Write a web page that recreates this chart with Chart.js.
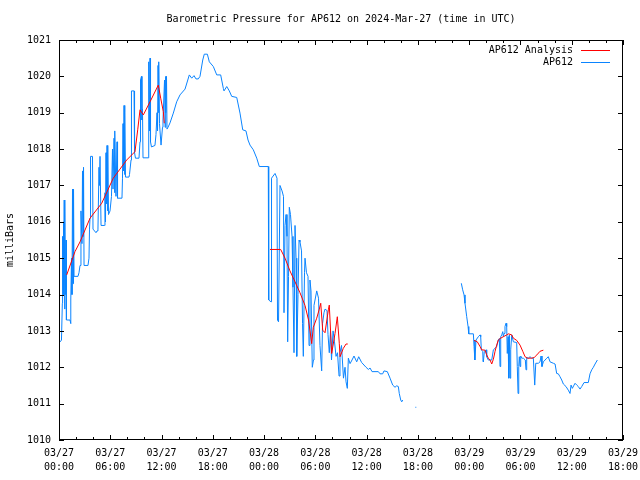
<!DOCTYPE html>
<html>
<head>
<meta charset="utf-8">
<title>AP612 barometric pressure</title>
<script src="https://cdn.jsdelivr.net/npm/chart.js@4.4.1/dist/chart.umd.min.js"></script>
<style>
  html, body { margin: 0; padding: 0; background: #fff; }
  #wrap { width: 640px; height: 480px; }
</style>
</head>
<body>
<div id="wrap"><canvas id="baro"></canvas></div>
<script>
// hours since 2024-03-27 00:00 UTC, null = no data
const apHours = [
  0.15,0.29,0.39,0.42,0.47,0.51,0.56,0.61,0.66,0.70,0.75,0.82,0.87,1.29,1.36,1.40,1.46,1.52,1.58,1.64,1.70,1.76,
  2.22,2.34,2.46,2.57,2.69,2.75,2.81,2.87,2.93,3.39,3.51,3.57,3.63,3.69,3.92,3.98,4.33,4.45,4.56,4.68,4.74,4.80,4.92,
  5.32,5.38,5.44,5.50,5.56,5.62,5.68,5.73,5.79,5.97,6.14,6.26,6.32,6.44,6.50,6.55,6.67,6.79,6.85,7.37,7.43,7.49,7.55,
  7.61,7.67,7.72,7.78,8.19,8.25,8.43,8.48,8.78,8.84,8.95,9.36,9.48,9.54,9.65,9.71,9.77,9.83,10.42,10.47,10.53,10.59,
  10.65,10.71,10.82,11.23,11.35,11.47,11.53,11.59,11.64,11.70,11.76,11.94,12.11,12.17,12.35,12.41,12.46,12.52,12.58,
  12.64,12.76,12.99,13.38,13.77,14.16,14.75,15.25,15.53,15.80,16.03,16.30,16.50,16.82,17.00,17.36,17.59,18.06,18.46,
  18.92,19.23,19.31,19.63,19.93,20.21,20.80,21.18,21.50,21.88,22.12,22.35,22.74,23.14,23.44,24.49,24.54,24.81,24.87,
  25.28,25.51,25.57,25.69,25.86,26.10,26.27,26.33,26.45,26.57,26.68,26.76,26.86,26.95,27.09,27.27,27.38,27.50,27.62,
  27.74,27.82,27.97,28.09,28.20,28.38,28.50,28.59,28.73,28.79,28.96,29.14,29.26,29.37,29.49,29.64,29.78,29.84,30.16,
  30.37,30.54,30.74,30.84,31.01,31.13,31.36,31.48,31.63,31.77,31.89,32.07,32.24,32.42,32.59,32.77,32.88,33.06,33.29,
  33.47,33.59,33.74,33.86,34.06,34.29,34.52,34.84,35.07,35.42,35.93,36.20,36.40,36.63,37.37,37.57,37.88,38.03,38.42,
  38.74,39.05,39.32,39.52,39.71,39.82,39.99,40.11,40.22,40.6,
  41.70,41.81,42.2,
  47.08,47.24,47.40,47.51,47.71,47.87,47.95,48.49,48.57,48.65,48.68,48.80,49.07,49.27,49.35,49.42,49.59,49.62,49.66,
  49.77,49.97,50.05,50.24,50.64,50.83,51.03,51.22,51.41,51.53,51.61,51.69,51.81,51.93,52.00,52.08,52.19,52.31,52.39,
  52.46,52.55,52.63,52.70,52.78,52.86,52.98,53.17,53.56,53.63,53.72,53.80,53.87,53.95,54.03,54.15,54.34,54.57,54.65,
  54.73,54.92,55.12,55.32,55.51,55.67,55.79,56.09,56.29,56.41,56.52,56.68,56.88,57.08,57.26,57.46,57.85,58.05,58.24,
  58.43,58.63,58.83,59.02,59.33,59.60,59.80,59.92,60.07,60.27,60.39,60.59,60.77,60.97,61.17,61.44,61.94,62.14,62.34,
  62.53,62.73,63.00
];
const apMb = [
  1012.70,1012.75,1013.76,1015.60,1014.10,1016.00,1014.00,1016.60,1013.60,1016.60,1014.00,1015.50,1013.30,1013.30,
  1013.20,1013.85,1015.00,1014.00,1016.90,1014.30,1016.90,1014.50,
  1014.50,1014.60,1014.80,1016.30,1015.40,1017.40,1015.60,1017.50,1014.80,1014.80,1015.00,1015.80,1016.10,1017.80,
  1017.80,1015.80,1015.70,1015.75,1015.80,1017.50,1017.00,1017.80,1015.90,
  1015.90,1016.80,1016.00,1017.90,1016.50,1018.10,1016.30,1018.10,1016.20,1016.30,1016.70,1018.00,1016.90,1018.30,
  1016.80,1018.50,1016.70,1018.20,1016.65,1016.65,1017.20,1018.70,1017.40,
  1019.20,1017.30,1019.00,1017.23,1017.23,1017.30,1017.70,1019.60,1019.60,1017.90,1017.75,1017.75,1018.20,1019.90,
  1020.00,1018.80,1019.10,1017.76,1017.76,1018.10,1020.40,1018.50,
  1020.50,1018.20,1018.06,1018.10,1018.40,1019.00,1018.50,1020.30,1019.00,1020.40,1018.70,1018.11,1018.60,1018.80,
  1019.90,1018.60,1020.00,1019.00,1020.00,
  1018.55,1018.60,1018.72,1018.99,1019.30,1019.49,1019.65,1020.04,1019.95,1020.02,1019.93,1019.93,1020.00,1020.45,
  1020.61,1020.61,1020.40,1020.27,1020.04,
  1020.04,1019.67,1019.60,1019.72,1019.60,1019.45,1019.42,1018.99,1018.53,1018.50,1018.25,1018.11,1017.98,1017.75,
  1017.52,1017.52,1013.85,1013.80,1017.20,
  1017.33,1017.20,1013.30,1013.25,1017.00,1016.85,1016.70,1013.50,1015.90,1016.20,1015.60,1012.70,1014.50,1016.40,
  1016.20,1015.60,1014.20,1012.40,1015.90,
  1015.00,1012.30,1014.00,1015.50,1015.45,1015.20,1013.20,1012.30,1014.60,1015.00,1014.60,1014.50,1012.60,1014.40,
  1014.10,1012.00,1012.20,1013.70,1014.10,
  1013.90,1012.60,1011.90,1013.20,1013.50,1013.60,1013.56,1012.90,1012.40,1013.00,1012.20,1013.00,1012.70,1012.30,
  1012.40,1011.76,1012.40,1012.60,1011.70,
  1012.00,1011.60,1011.42,1012.25,1012.10,1012.20,1012.31,1012.15,1012.29,1012.13,1012.00,1011.94,1011.98,1011.88,
  1011.88,1011.82,1011.82,1011.90,1011.88,
  1011.70,1011.51,1011.45,1011.49,1011.47,1011.28,1011.10,1011.05,1011.10,null,
  1010.90,1010.90,null,
  1014.31,1014.13,1013.99,1013.76,1013.39,1013.12,1012.92,1012.92,1012.57,1012.75,1012.20,1012.75,1012.84,1012.89,
  1012.84,1012.48,1012.43,1012.20,1012.15,
  1012.43,1012.48,1012.29,1012.20,1012.20,1012.48,1012.52,1012.57,1012.75,1012.79,1012.02,1012.84,1012.89,1012.98,
  1012.84,1012.93,1013.12,1013.21,1013.12,
  1012.38,1012.84,1011.70,1012.89,1011.70,1012.48,1012.89,1012.70,1012.68,1012.02,1011.28,1012.02,1012.29,1012.02,
  1012.31,1012.25,1012.25,1012.20,1011.93,
  1012.27,1012.25,1012.29,1012.25,1012.25,1011.51,1012.11,1012.11,1012.15,1012.31,1012.02,1012.15,1012.20,1012.25,
  1012.29,1012.15,1012.11,1012.09,1011.83,
  1011.82,1011.74,1011.65,1011.54,1011.47,1011.37,1011.28,1011.51,1011.42,1011.51,1011.56,1011.51,1011.47,1011.40,
  1011.47,1011.58,1011.58,1011.82,1011.93,
  1012.00,1012.09,1012.20
];

const anaHours = [
  0.90,1.87,2.46,3.63,5.00,6.35,7.14,7.92,8.89,9.21,9.48,9.87,10.65,11.62,11.90,12.21,12.32,13.0,
  24.69,25.94,26.45,27.03,27.62,28.20,28.79,29.20,29.57,29.76,30.16,30.46,30.63,30.86,31.13,31.52,31.63,31.91,
  32.30,32.57,32.80,32.89,33.27,33.59,33.79,34.5,
  48.57,48.95,49.27,49.47,49.85,50.05,50.24,50.44,50.64,50.83,51.03,51.22,51.41,51.61,52.00,52.39,52.58,52.98,
  53.17,53.56,53.95,54.27,54.54,54.81,55.32,55.61,55.92,56.29,56.68
];
const anaMb = [
  1014.54,1015.18,1015.45,1016.10,1016.51,1017.20,1017.45,1017.70,1017.93,1018.53,1019.08,1018.94,1019.30,1019.76,
  1019.40,1019.03,1018.71,null,
  1015.24,1015.24,1015.00,1014.65,1014.35,1014.05,1013.70,1013.30,1012.65,1013.10,1013.35,1013.60,1013.76,1013.02,
  1012.95,1013.58,1013.71,1012.38,
  1012.93,1013.39,1012.66,1012.29,1012.52,1012.64,1012.64,null,
  1012.74,1012.70,1012.57,1012.48,1012.47,1012.34,1012.25,1012.20,1012.09,1012.22,1012.44,1012.61,1012.75,1012.79,
  1012.84,1012.89,1012.92,1012.89,
  1012.80,1012.74,1012.61,1012.44,1012.29,1012.25,1012.25,1012.27,1012.34,1012.44,1012.47
];

const dayNames = ['03/27', '03/28', '03/29'];
const pMin = 1010, pMax = 1021;
const hMax = 66;

const toPoints = (xs, ys) => xs.map((h, i) => ({ x: h, y: ys[i] }));
const mono = { family: '"DejaVu Sans Mono", "Liberation Mono", monospace', size: 10 };

// gnuplot style frame: box, inward ticks on all sides, key in upper right
const frame = {
  id: 'frame',
  afterDraw(chart) {
    const { ctx, chartArea: a, scales } = chart;
    const x = scales.x, y = scales.y;
    ctx.save();
    ctx.strokeStyle = '#000';
    ctx.lineWidth = 1;
    ctx.beginPath();
    for (let h = 0; h <= hMax; h += 2) {
      const px = Math.round(x.getPixelForValue(h)) + 0.5;
      const len = h % 6 === 0 ? 5 : 3;
      ctx.moveTo(px, a.bottom); ctx.lineTo(px, a.bottom - len);
      ctx.moveTo(px, a.top); ctx.lineTo(px, a.top + len);
    }
    for (let v = pMin; v <= pMax; v++) {
      const py = Math.round(y.getPixelForValue(v)) + 0.5;
      ctx.moveTo(a.left, py); ctx.lineTo(a.left + 5, py);
      ctx.moveTo(a.right, py); ctx.lineTo(a.right - 5, py);
    }
    ctx.stroke();
    ctx.strokeRect(Math.round(a.left) + 0.5, Math.round(a.top) + 0.5,
                   Math.round(a.width) - 1, Math.round(a.height) - 1);

    ctx.font = '10px ' + mono.family;
    ctx.textAlign = 'right';
    ctx.textBaseline = 'middle';
    ctx.fillStyle = '#000';
    chart.data.datasets.forEach((ds, i) => {
      const ky = a.top + 10 + i * 12;
      ctx.fillText(ds.label, a.right - 50, ky);
      ctx.strokeStyle = ds.borderColor;
      ctx.beginPath();
      ctx.moveTo(a.right - 42, ky + 0.5);
      ctx.lineTo(a.right - 13, ky + 0.5);
      ctx.stroke();
    });
    ctx.restore();
  }
};

new Chart(document.getElementById('baro'), {
  type: 'line',
  data: {
    datasets: [
      {
        label: 'AP612 Analysis',
        data: toPoints(anaHours, anaMb),
        borderColor: '#ff0000',
        borderWidth: 1,
        pointRadius: 0,
        tension: 0,
        spanGaps: false
      },
      {
        label: 'AP612',
        data: toPoints(apHours, apMb),
        borderColor: '#0a84ff',
        borderWidth: 1,
        pointRadius: 0,
        tension: 0,
        spanGaps: false
      }
    ]
  },
  options: {
    responsive: true,
    maintainAspectRatio: false,
    animation: false,
    devicePixelRatio: 1,
    layout: { padding: { left: 0, right: 17, top: 0, bottom: 0 } },
    plugins: {
      legend: { display: false },
      tooltip: { enabled: false },
      title: {
        display: true,
        fullSize: false,
        text: 'Barometric Pressure for AP612 on 2024-Mar-27 (time in UTC)',
        color: '#000',
        font: { ...mono, weight: 'normal' },
        padding: { top: 13, bottom: 15 }
      }
    },
    scales: {
      x: {
        type: 'linear',
        min: 0,
        max: hMax,
        grid: { display: false, drawTicks: false },
        border: { display: false },
        ticks: {
          stepSize: 6,
          autoSkip: false,
          maxRotation: 0,
          padding: 6,
          color: '#000',
          font: { ...mono, lineHeight: 1.4 },
          callback: v => [dayNames[Math.floor(v / 24)], String(v % 24).padStart(2, '0') + ':00']
        },
        afterFit(s) { s.height = 40; s.paddingLeft = 0; s.paddingRight = 0; }
      },
      y: {
        min: pMin,
        max: pMax,
        grid: { display: false, drawTicks: false },
        border: { display: false },
        ticks: { stepSize: 1, padding: 8, color: '#000', font: mono, callback: v => String(v) },
        title: { display: true, text: 'milliBars', color: '#000', font: mono, padding: { top: 4, bottom: 4 } },
        afterFit(s) { s.width = 59; s.paddingTop = 0; s.paddingBottom = 0; }
      }
    }
  },
  plugins: [frame]
});
</script>
</body>
</html>
